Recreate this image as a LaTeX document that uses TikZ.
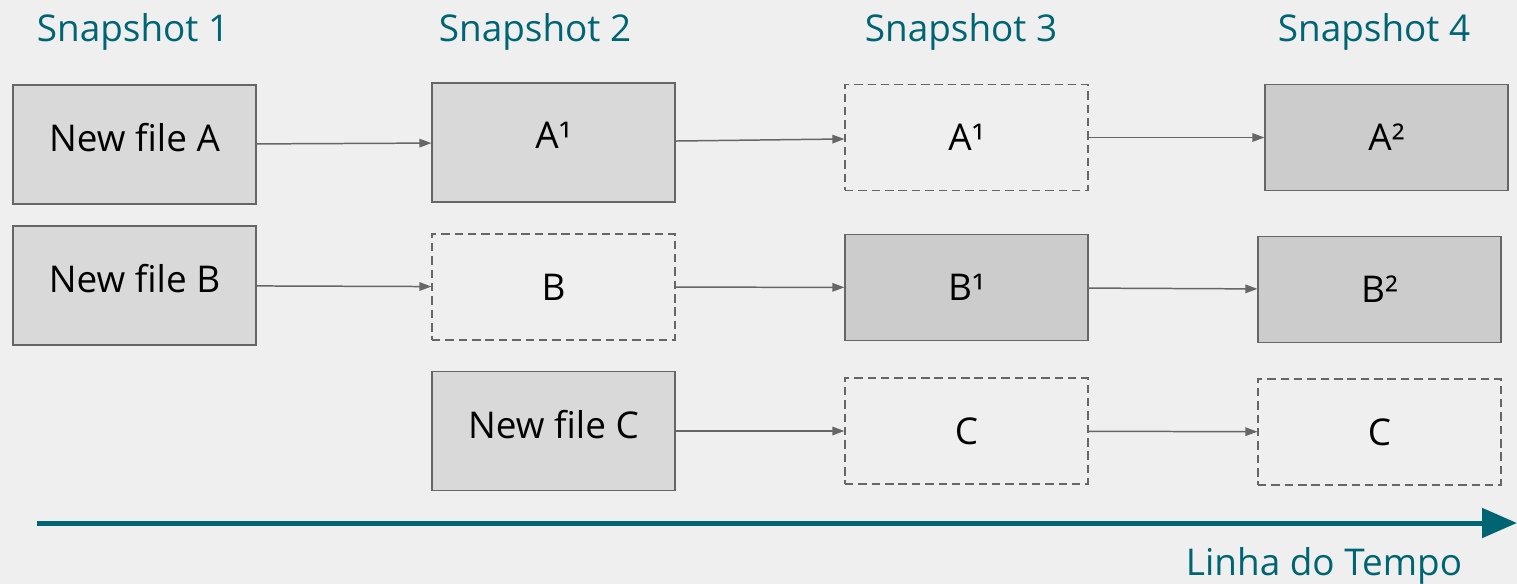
\documentclass[tikz,border=0pt]{standalone}
\usepackage{fontspec}
\setmainfont{Open Sans}
\usetikzlibrary{arrows.meta}
\definecolor{bgcol}{HTML}{EFEFEF}
\definecolor{tealcol}{HTML}{006573}
\definecolor{linecol}{HTML}{666666}
\definecolor{filllight}{HTML}{D9D9D9}
\definecolor{filldark}{HTML}{CCCCCC}

\begin{document}
\begin{tikzpicture}[x=0.02cm,y=-0.02cm]
\tikzset{
  snaptitle/.style={anchor=base,text=tealcol,font=\fontsize{21}{25}\selectfont},
  filebox/.style={rectangle,minimum width=4.86cm,inner sep=0pt,font=\fontsize{21}{25}\selectfont},
  tallbox/.style={filebox,draw=linecol,line width=0.7pt,fill=filllight,minimum height=2.38cm,text depth=0.28cm},
  changedbox/.style={filebox,draw=linecol,line width=0.7pt,fill=filldark,minimum height=2.12cm},
  keptbox/.style={filebox,draw=linecol,line width=0.7pt,dash pattern=on 4.8pt off 2.8pt,minimum height=2.12cm},
  flow/.style={draw=linecol,line width=0.85pt,-{Triangle[length=2.4mm,width=1.7mm]}},
  timeline/.style={draw=tealcol,line width=0.1cm,-{Triangle[length=0.7cm,width=0.58cm]}}
}
\fill[bgcol] (0,0) rectangle (1517,584);
\useasboundingbox (0,0) rectangle (1517,584);
\node[snaptitle] (n_t1) at (133,42) {Snapshot 1};
\node[snaptitle] (n_t2) at (535,42) {Snapshot 2};
\node[snaptitle] (n_t3) at (961,42) {Snapshot 3};
\node[snaptitle] (n_t4) at (1374,42) {Snapshot 4};
\node[tallbox] (n_s1a) at (134.5,144.5) {New file A};
\node[tallbox] (n_s1b) at (134.5,285.5) {New file B};
\node[tallbox] (n_s2a) at (553.5,142.5) {A¹};
\node[keptbox] (n_s2b) at (553.5,287) {B};
\node[tallbox] (n_s2c) at (553.5,431) {New file C};
\node[keptbox] (n_s3a) at (966.5,137.5) {A¹};
\node[changedbox] (n_s3b) at (966.5,287.5) {B¹};
\node[keptbox] (n_s3c) at (966.5,431) {C};
\node[changedbox] (n_s4a) at (1386.5,137.5) {A²};
\node[changedbox] (n_s4b) at (1379.5,289.5) {B²};
\node[keptbox] (n_s4c) at (1379.5,432) {C};
\draw[flow] (n_s1a) -- (n_s2a);
\draw[flow] (n_s2a) -- (n_s3a);
\draw[flow] (n_s3a) -- (n_s4a);
\draw[flow] (n_s1b) -- (n_s2b);
\draw[flow] (n_s2b) -- (n_s3b);
\draw[flow] (n_s3b) -- (n_s4b);
\draw[flow] (n_s2c) -- (n_s3c);
\draw[flow] (n_s3c) -- (n_s4c);
\coordinate (tl_start) at (37,523);
\coordinate (tl_end) at (1517,523);
\draw[timeline] (tl_start) -- (tl_end);
\node[snaptitle] (n_time) at (1324,575) {Linha do Tempo};
\end{tikzpicture}
\end{document}
